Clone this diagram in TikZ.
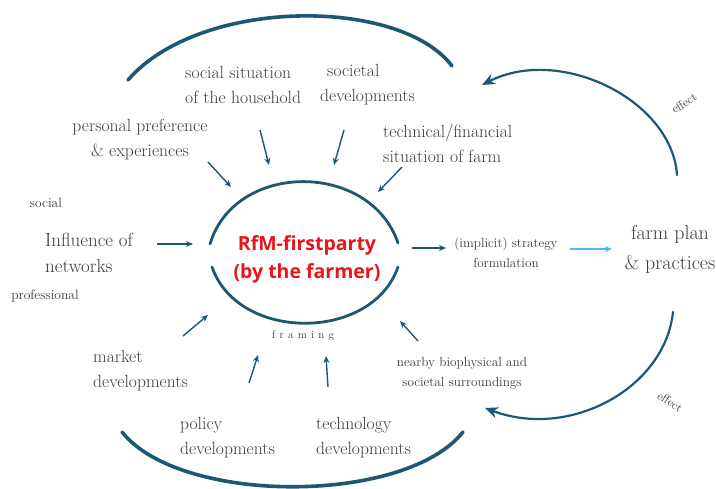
\documentclass[tikz,border=0pt]{standalone}
\usepackage{fontspec}
\newfontfamily\rfmfont{Open Sans}
\usetikzlibrary{arrows.meta}
\definecolor{teal1}{RGB}{28,88,118}
\definecolor{sky}{RGB}{80,185,240}
\definecolor{txt}{RGB}{60,60,60}
\definecolor{rfm}{RGB}{235,20,25}
\begin{document}
\begin{tikzpicture}[x=1pt,y=-1pt,
  lbl/.style={text=txt, font=\fontsize{17.6}{25}\selectfont, inner sep=0pt},
  big/.style={text=txt, font=\fontsize{20}{30}\selectfont, inner sep=0pt},
  small/.style={text=txt, font=\fontsize{13.2}{20}\selectfont, inner sep=0pt},
  side/.style={text=txt, font=\fontsize{13.5}{16}\selectfont, inner sep=0pt},
  tinylbl/.style={text=txt, font=\fontsize{12}{14}\selectfont, inner sep=0pt},
  inarrow/.style={draw=teal1, line width=1.4pt, -{Stealth[length=7pt,width=6pt]}},
  bigarc/.style={draw=teal1, line width=3.6pt, line cap=round},
  midarc/.style={draw=teal1, line width=2.8pt, line cap=round},
  effarrow/.style={draw=teal1, line width=2.2pt, line cap=round, -{Stealth[length=13pt,width=11pt]}},
  skyarrow/.style={draw=sky, line width=1.6pt, -{Stealth[length=7pt,width=6pt]}}
]
\useasboundingbox[fill=white] (0,0) rectangle (716,489);

% outer arcs
\coordinate (ta1) at (128,80);
\coordinate (ta2) at (452,66);
\draw[bigarc] (ta1) .. controls (200,-3) and (400,-3) .. (ta2);
\coordinate (ba1) at (122,432);
\coordinate (ba2) at (463,432);
\draw[bigarc] (ba1) .. controls (180,505) and (405,505) .. (ba2);

% central arcs
\coordinate (ca1) at (210,244);
\coordinate (ca2) at (398,243);
\draw[midarc] (ca1) .. controls (235,161) and (370,161) .. (ca2);
\coordinate (cb1) at (212,267);
\coordinate (cb2) at (398,267);
\draw[midarc] (cb1) .. controls (238,342) and (372,342) .. (cb2);

% central text
\node[text=rfm, font=\rfmfont\bfseries\fontsize{19.5}{28}\selectfont, align=center, inner sep=0pt] (rfm) at (307,259) {RfM-firstparty\\(by the farmer)};
\node[tinylbl, font=\fontsize{11}{12}\selectfont] (framing) at (303,336) {f\hspace{4.3pt}r\hspace{4.3pt}a\hspace{4.3pt}m\hspace{4.3pt}i\hspace{4.3pt}n\hspace{4.3pt}g};

% labels
\node[lbl, anchor=west, align=left] (soc) at (185,84.5) {social situation\\of the household};
\node[lbl, anchor=west, align=left] (socdev) at (320,84.5) {\hspace{7pt}societal\\developments};
\node[lbl, align=center] (pers) at (140,139.5) {personal preference\\\& experiences};
\node[lbl, anchor=west, align=left] (tech) at (383,143.5) {technical/financial\\situation of farm};
\node[side] (social) at (46,203) {social};
\node[big, font=\fontsize{19}{26}\selectfont, anchor=west, align=left] (infl) at (45,253) {Influence of\\networks};
\node[side] (prof) at (45,296) {professional};
\node[lbl, anchor=west, align=left] (market) at (93,371) {market\\developments};
\node[lbl, anchor=west, align=left] (policy) at (180,437.5) {policy\\developments};
\node[lbl, anchor=west, align=left] (techdev) at (316,437.5) {technology\\developments};
\node[small, align=center] (nearby) at (462,373) {nearby biophysical and\\societal surroundings};
\node[small, align=center] (strat) at (506,253) {(implicit) strategy\\formulation};
\node[big, align=center] (farm) at (670,249) {farm plan\\\& practices};
\node[tinylbl, rotate=33] (eff1) at (684,103) {effect};
\node[tinylbl, rotate=-33] (eff2) at (670,402) {effect};

% small input arrows
\coordinate (a1s) at (260,130); \coordinate (a1e) at (269,165);
\coordinate (a2s) at (344,130); \coordinate (a2e) at (334,165);
\coordinate (a3s) at (208,162); \coordinate (a3e) at (231,187);
\coordinate (a4s) at (402,167); \coordinate (a4e) at (378,192);
\coordinate (a5s) at (183,336); \coordinate (a5e) at (208,315);
\coordinate (a6s) at (249,383); \coordinate (a6e) at (258,355);
\coordinate (a7s) at (328,387); \coordinate (a7e) at (326,356);
\coordinate (a8s) at (418,341); \coordinate (a8e) at (400,321);
\coordinate (a9s) at (157,244); \coordinate (a9e) at (193,244);
\draw[inarrow] (a1s) -- (a1e);
\draw[inarrow] (a2s) -- (a2e);
\draw[inarrow] (a3s) -- (a3e);
\draw[inarrow] (a4s) -- (a4e);
\draw[inarrow] (a5s) -- (a5e);
\draw[inarrow] (a6s) -- (a6e);
\draw[inarrow] (a7s) -- (a7e);
\draw[inarrow] (a8s) -- (a8e);
\draw[inarrow] (a9s) -- (a9e);

% output arrows
\coordinate (o1s) at (412,248); \coordinate (o1e) at (446,248);
\draw[inarrow] (o1s) -- (o1e);
\coordinate (o2s) at (570,249); \coordinate (o2e) at (612,249);
\draw[skyarrow] (o2s) -- (o2e);

% effect arrows
\coordinate (e1s) at (677,175); \coordinate (e1e) at (482,85);
\draw[effarrow] (e1s) .. controls (672,100) and (560,45) .. (e1e);
\coordinate (e2s) at (673,312); \coordinate (e2e) at (485,408);
\draw[effarrow] (e2s) .. controls (665,388) and (570,440) .. (e2e);
\end{tikzpicture}
\end{document}
